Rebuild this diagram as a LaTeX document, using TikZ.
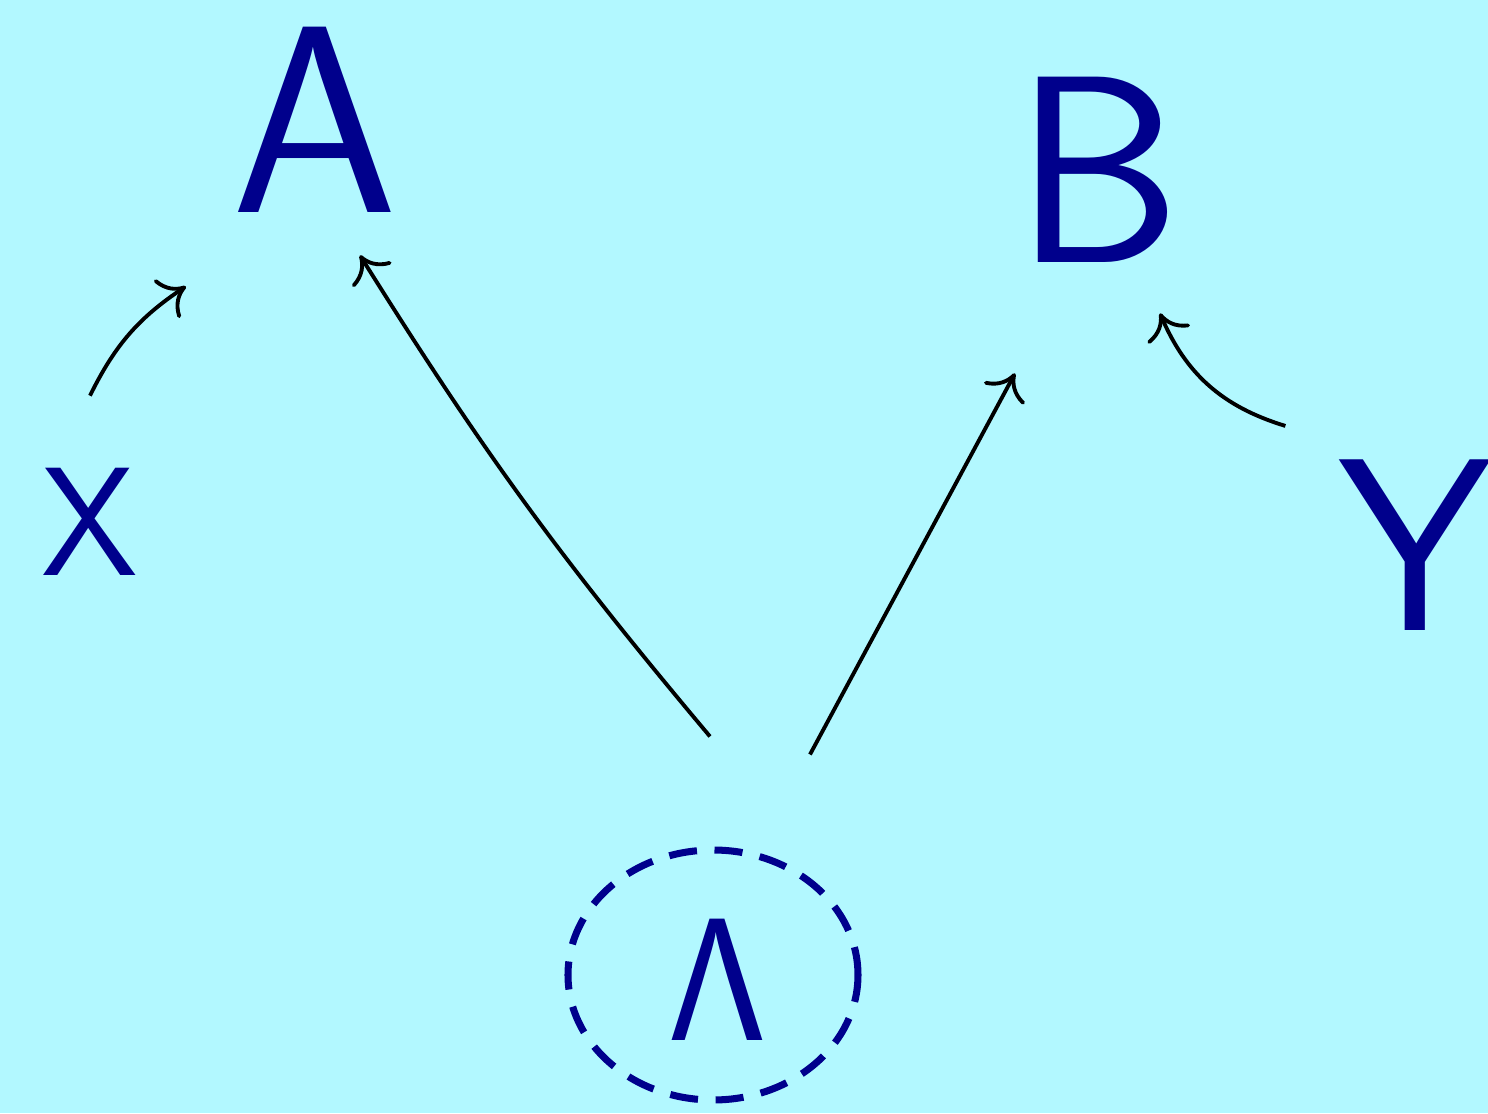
\documentclass[tikz,border=0pt]{standalone}
\usepackage{tikz}
\usetikzlibrary{arrows.meta, positioning, calc, shapes.geometric}
\definecolor{skycyan}{RGB}{178,248,255}
\definecolor{inkblue}{RGB}{0,0,140}

\begin{document}
\begin{tikzpicture}[
  letter/.style={inner sep=0pt, text=inkblue, font=\sffamily},
  arr/.style={-{To[length=2.4mm,width=4.6mm]}, line width=1.1pt, black},
  ring/.style={ellipse, draw=inkblue, line width=2pt, dash pattern=on 8pt off 5pt,
               minimum width=2.9cm, minimum height=2.5cm, inner sep=0pt}
]
\useasboundingbox[fill=skycyan] (0,0) rectangle (14.88,11.13);

%% ---- letters ----
\node[letter, font=\sffamily\fontsize{76}{80}\selectfont] (A) at (3.15,9.93) {A};
\node[letter, font=\sffamily\fontsize{76}{80}\selectfont] (B) at (10.98,9.43) {B};
\node[letter, font=\sffamily\fontsize{44}{48}\selectfont] (X) at (0.90,5.91) {X};
\node[letter, font=\sffamily\fontsize{70}{74}\selectfont] (Y) at (14.15,5.68) {Y};

% hidden variable
\node[ring] (lamring) at (7.13,1.38) {};
\node[letter, scale=2, transform shape, font=\fontsize{24}{28}\selectfont] (lam) at (7.18,1.33) {$\mathsf{\Lambda}$};

%% ---- arrow ends ----
\coordinate (lamL) at ($(lamring.north)+(-0.03,1.10)$);
\coordinate (lamR) at ($(lamring.north)+(0.97,0.92)$);
\coordinate (Xout) at ($(X.north)+(0,0.72)$);
\coordinate (Yout) at ($(Y.north west)+(-0.52,0.33)$);

\draw[arr] (lamL) to[bend left=4] ($(A.south)+(0.45,-0.42)$);
\draw[arr] (lamR) -- ($(B.south)+(-0.83,-1.10)$);
\draw[arr] (Xout) to[bend left=15] ($(A.south west)+(-0.45,-0.73)$);
\draw[arr] (Yout) to[bend left=25] ($(B.south)+(0.62,-0.50)$);

\end{tikzpicture}
\end{document}
